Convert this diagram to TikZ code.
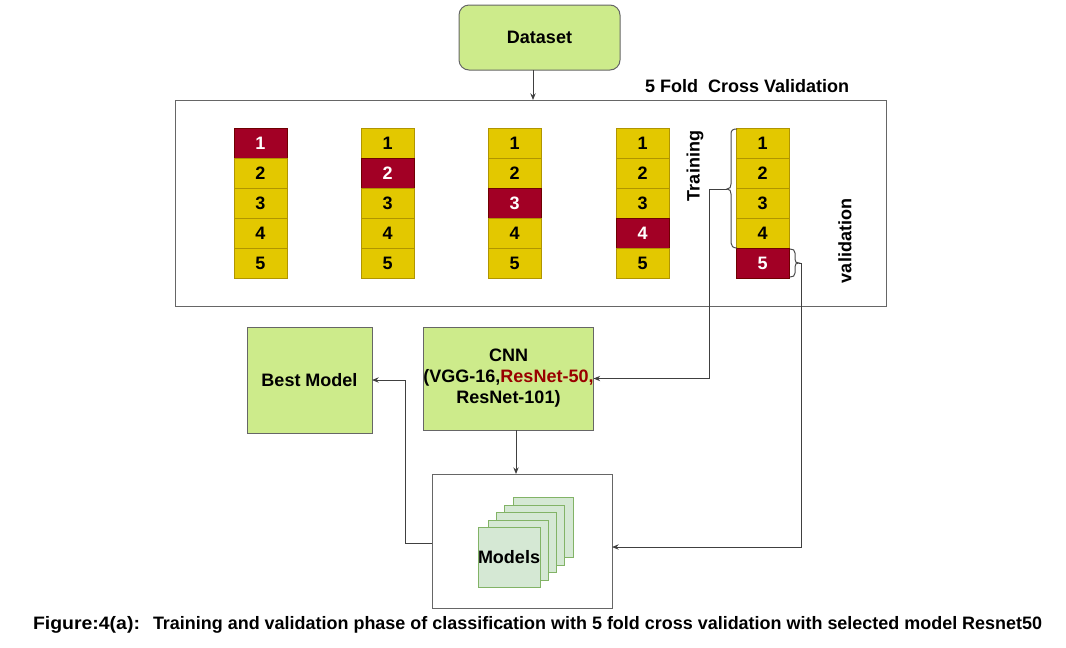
\documentclass[tikz,border=0pt]{standalone}
\usepackage{graphicx}
\usepackage{fontspec}
\setmainfont{Liberation Sans}
\usetikzlibrary{arrows.meta,calc}
\definecolor{lgreen}{HTML}{CDEB8B}
\definecolor{boxline}{HTML}{666666}
\definecolor{cellyel}{HTML}{E3C800}
\definecolor{cellyelb}{HTML}{B09500}
\definecolor{cellred}{HTML}{A20025}
\definecolor{cellredb}{HTML}{6F0000}
\definecolor{stackfill}{HTML}{D5E8D4}
\definecolor{stackline}{HTML}{82B366}
\definecolor{netred}{HTML}{990000}
\begin{document}
\begin{tikzpicture}[x=0.75pt,y=-0.75pt,
  every node/.style={font=\fontsize{13.5pt}{15.75pt}\selectfont\bfseries, inner sep=0pt, outer sep=0pt},
  greenbox/.style={draw=boxline, fill=lgreen, line width=0.75pt, align=center},
  plainbox/.style={draw=boxline, line width=0.75pt},
  cellbox/.style={draw=cellyelb, fill=cellyel, line width=0.75pt, minimum width=39.75pt, minimum height=22.5pt},
  redcell/.style={draw=cellredb, fill=cellred, text=white, line width=0.75pt, minimum width=39.75pt, minimum height=22.5pt},
  sheet/.style={draw=stackline, fill=stackfill, minimum width=45pt, minimum height=45pt, line width=0.75pt},
  conn/.style={draw=black!75, line width=0.75pt},
  arr/.style={conn, -{Stealth[length=5pt,width=4pt]}},
  bracestyle/.style={draw=black!70, line width=0.75pt}
]
\path[use as bounding box] (0,0) rectangle (1066,647);

% Dataset
\node[greenbox, rounded corners=7.5pt, minimum width=120.75pt, minimum height=48.75pt] (dataset) at (539.5,37.5) {Dataset};

% cross validation frame
\node[plainbox, minimum width=533.25pt, minimum height=154.5pt] (cv) at (530.5,203) {};
\node[anchor=west] (cvlabel) at (645,86) {5 Fold\ \ Cross Validation};

% folds
\foreach \c/\x in {1/260.5,2/387.5,3/514.5,4/642.5,5/762.5}{
  \foreach \r in {1,...,5}{
    \pgfmathsetmacro\yy{113+30*\r}
    \ifnum\c=\r
      \node[redcell] (c\c\r) at (\x,\yy) {\r};
    \else
      \node[cellbox] (c\c\r) at (\x,\yy) {\r};
    \fi
  }
}

% labels
\node[rotate=90] (train) at (695,166) {Training};
\node[rotate=90] (valid) at (845,241) {validation};

% braces
\coordinate (trtip) at (727,189);
\coordinate (valtip) at (799,263);
\draw[bracestyle] (737,129) .. controls (733,129) and (731,130) .. (731,134) -- (731,184)
  .. controls (731,187) and (730,189) .. (trtip)
  .. controls (730,189) and (731,191) .. (731,194) -- (731,243)
  .. controls (731,246) and (733,248) .. (737,248);
\draw[bracestyle] (790,249) .. controls (793,249) and (795,250) .. (795,253) -- (795,259)
  .. controls (795,262) and (796,263) .. (valtip)
  .. controls (796,263) and (795,264) .. (795,267) -- (795,273)
  .. controls (795,276) and (793,277) .. (790,277);

% CNN and Best model
\node[greenbox, minimum width=125.25pt, minimum height=77.25pt] (cnn) at (508.5,378.5)
  {CNN\\(VGG-16,\textcolor{netred}{ResNet-50,}\\ResNet-101)};
\node[greenbox, minimum width=93.75pt, minimum height=79.5pt] (best) at (309.5,380) {Best Model};

% Models
\node[plainbox, minimum width=135pt, minimum height=100.5pt] (mbox) at (522,541) {};
\node[sheet] (s5) at (543,527) {};
\node[sheet] (s4) at (534,535) {};
\node[sheet] (s3) at (526,542) {};
\node[sheet] (s2) at (518,550) {};
\node[sheet] (s1) at (509,557) {Models};

% connectors
\draw[arr] ([xshift=-4.875pt]dataset.south) -- ([xshift=-4.875pt]dataset.south |- cv.north);
\draw[arr] ([xshift=5.625pt]cnn.south) -- ([xshift=5.625pt]cnn.south |- mbox.north);
\draw[arr] (trtip) -- ++(-18,0) |- (cnn.east);
\draw[arr] (valtip) -- ++(2,0) |- ([yshift=-4.5pt]mbox.east);
\draw[arr] ([yshift=-1.5pt]mbox.west) -- ++(-27,0) |- (best.east);

% caption
\node[anchor=west] (figlab) at (33,625) {\resizebox{80.25pt}{\height}{Figure:4(a):}};
\node[anchor=west] (caption) at (153,625) {\resizebox{666.75pt}{\height}{Training and validation phase of classification with 5 fold cross validation with selected model Resnet50}};
\end{tikzpicture}
\end{document}
